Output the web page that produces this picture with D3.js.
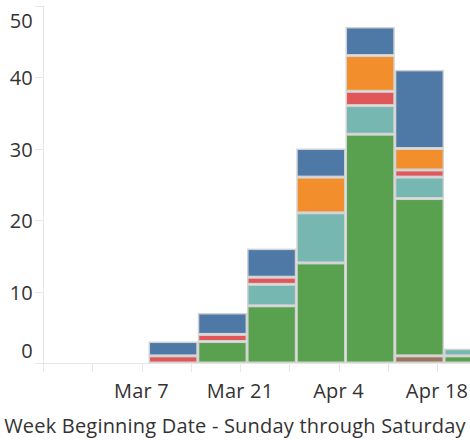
<!DOCTYPE html>
<html>
<head>
<meta charset="utf-8">
<script src="https://cdn.jsdelivr.net/npm/d3@7"></script>
<style>
  body { margin: 0; background: #fff; }
  text { font-family: "Open Sans", sans-serif; fill: #333; font-size: 20px; letter-spacing: 0.2px; }
</style>
</head>
<body>
<div id="viz"></div>
<script>
// weeks (Sunday start), stacked from bottom to top
var weeks = ["2020-03-08", "2020-03-15", "2020-03-22", "2020-03-29", "2020-04-05", "2020-04-12", "2020-04-19"];
var seriesKeys = ["brown", "green", "teal", "red", "orange", "blue"];
var seriesColours = ["#9c755f", "#59a14f", "#76b7b2", "#e15759", "#f28e2b", "#4e79a7"];
var brown  = [0, 0, 0, 0, 0, 1, 0];
var green  = [0, 3, 8, 14, 32, 22, 1];
var teal   = [0, 0, 3, 7, 4, 3, 1];
var red    = [1, 1, 1, 0, 2, 1, 0];
var orange = [0, 0, 0, 5, 5, 3, 0];
var blue   = [2, 3, 4, 4, 4, 11, 0];
var yTicks = [0, 10, 20, 30, 40, 50];
var xTickLabels = ["2020-03-07", "2020-03-21", "2020-04-04", "2020-04-18"];
var axisTitle = "Week Beginning Date - Sunday through Saturday";

var w = 470, h = 440;
var padL = 43, padR = 470, padT = 5.5, padB = 363;
var parse = d3.timeParse("%Y-%m-%d");
var start = parse("2020-02-22");

var rows = weeks.map(function(d, i){
	return {week: parse(d), brown: brown[i], green: green[i], teal: teal[i], red: red[i], orange: orange[i], blue: blue[i]};
});

var x = d3.scaleTime()
	.domain([start, d3.timeDay.offset(start, 61)])
	.range([padL, padL + 61 * 7.036]);
var y = d3.scaleLinear().domain([0, 50]).range([padB, padT]);
var colour = d3.scaleOrdinal().domain(seriesKeys).range(seriesColours);

var svg = d3.select("#viz").append("svg")
	.attr("width", w)
	.attr("height", h);

svg.append("defs").append("clipPath").attr("id", "plot")
	.append("rect").attr("x", padL).attr("y", 0).attr("width", padR - padL).attr("height", padB + 1);

var stack = d3.stack().keys(seriesKeys)(rows);

// axis lines
var axisColour = "#e6e6e6";
svg.append("line")
	.attr("x1", padL + 0.5).attr("x2", padL + 0.5).attr("y1", padT).attr("y2", padB + 9)
	.style("stroke", axisColour);
svg.append("line")
	.attr("x1", 35).attr("x2", padR).attr("y1", padB + 0.5).attr("y2", padB + 0.5)
	.style("stroke", axisColour);

svg.append("g").attr("clip-path", "url(#plot)")
	.selectAll("g")
	.data(stack)
	.enter().append("g")
		.style("fill", function(d){ return colour(d.key); })
	.selectAll("rect")
	.data(function(d){ return d.filter(function(s){ return s[1] > s[0]; }); })
	.enter().append("rect")
		.attr("x", function(d){ return x(d.data.week) + 0.75; })
		.attr("width", function(d){ return x(d3.timeDay.offset(d.data.week, 7)) - x(d.data.week) - 1.5; })
		.attr("y", function(d){ return y(d[1]) + 0.75; })
		.attr("height", function(d){ return y(d[0]) - y(d[1]) - 1.5; })
		.style("stroke", "#d2d2d2")
		.style("stroke-width", 1.5);

// y ticks + labels
var yAxis = svg.append("g");
yAxis.selectAll("line")
	.data(yTicks)
	.enter().append("line")
		.attr("x1", 35).attr("x2", padL)
		.attr("y1", function(d){ return Math.round(y(d)) + 0.5; })
		.attr("y2", function(d){ return Math.round(y(d)) + 0.5; })
		.style("stroke", axisColour);
yAxis.selectAll("text")
	.data(yTicks)
	.enter().append("text")
		.attr("x", 33)
		.attr("y", function(d){
			// end labels are pulled inside the axis, as the reference does
			if (d == 0) return y(d) - 12.7;
			if (d == 50) return y(d) + 15;
			return y(d) + 1;
		})
		.attr("dy", "0.36em")
		.attr("text-anchor", "end")
		.text(function(d){ return d; });

// x ticks every week
var weekTicks = d3.range(0, 9).map(function(i){ return d3.timeDay.offset(start, i * 7); });
svg.append("g").selectAll("line")
	.data(weekTicks)
	.enter().append("line")
		.attr("x1", function(d){ return Math.round(x(d)) + 0.5; })
		.attr("x2", function(d){ return Math.round(x(d)) + 0.5; })
		.attr("y1", padB).attr("y2", padB + 9)
		.style("stroke", axisColour);

var fmt = d3.timeFormat("%b %-d");
svg.append("g").selectAll("text")
	.data(xTickLabels.map(parse))
	.enter().append("text")
		.attr("x", function(d){ return x(d); })
		.attr("y", 390.5)
		.attr("dy", "0.36em")
		.attr("text-anchor", "middle")
		.text(fmt);

svg.append("text")
	.attr("x", 235)
	.attr("y", 425.3)
	.attr("dy", "0.36em")
	.attr("text-anchor", "middle")
	.text(axisTitle);
</script>
</body>
</html>
